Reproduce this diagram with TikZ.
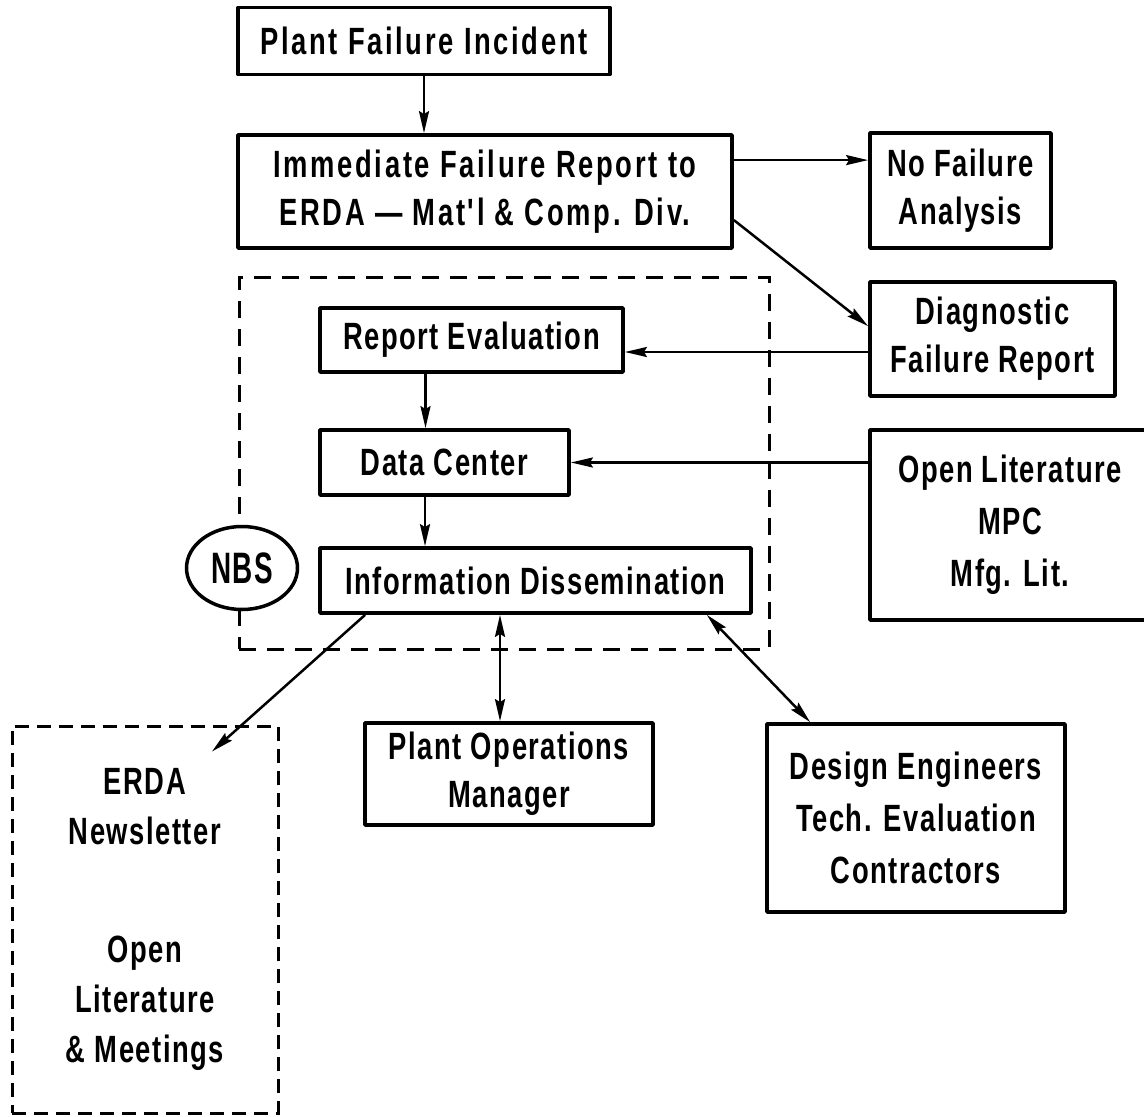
\documentclass[tikz,border=0pt]{standalone}
\usepackage{fontspec}
\usepackage{graphicx}
\setmainfont{Liberation Sans}[FakeStretch=0.72,LetterSpace=4]
\newfontfamily\topfont{Liberation Sans}[FakeStretch=0.72,LetterSpace=7]
\usetikzlibrary{arrows.meta,shapes.geometric,calc}
\begin{document}
\begin{tikzpicture}[x=1pt,y=-1pt,
  lbl/.style={font=\bfseries\fontsize{38}{48}\selectfont},
  lbltop/.style={font=\topfont\bfseries\fontsize{38}{48}\selectfont},
  lbltall/.style={font=\bfseries\fontsize{38}{52}\selectfont},
  box/.style={draw, line width=3.8pt, inner sep=0pt, align=center, lbl, line join=round},
  nbsdash/.style={draw, line width=3pt, dash pattern=on 17pt off 11pt, inner sep=0pt},
  newsdash/.style={draw, line width=3pt, dash pattern=on 14pt off 8pt, inner sep=0pt, align=center,
                   font=\bfseries\fontsize{38}{50}\selectfont},
  tip/.tip={Stealth[length=22pt,width=10pt,inset=3pt]},
  arr/.style={line width=2.5pt, -tip},
  darr/.style={line width=2.5pt, tip-tip},
]
\fill[white] (0,0) rectangle (1144,1117);
\useasboundingbox (0,0) rectangle (1144,1117);

% NBS container and label
\node[nbsdash, minimum width=530pt, minimum height=372pt] (nbs) at (504,463) {};
\node[ellipse, draw, line width=3.5pt, fill=white, minimum width=111pt, minimum height=83pt, inner sep=0pt,
      font=\bfseries\fontsize{44}{48}\selectfont] (nbslbl) at (242,568) {\scalebox{0.88}[1]{NBS}};

% boxes
\node[box, lbltop, minimum width=372pt, minimum height=67pt] (pfi) at (424,41) {Plant Failure Incident};
\node[box, lbltop, minimum width=494pt, minimum height=113pt] (ifr) at (485,191.5)
  {Immediate Failure Report to\\ERDA \textemdash{} Mat'l \& Comp. Div.};
\node[box, minimum width=181pt, minimum height=115pt] (nfa) at (960.5,190.5) {No Failure\\Analysis};
\node[box, minimum width=245pt, minimum height=114pt] (dfr) at (992.5,339) {Diagnostic\\Failure Report};
\node[box, lbltall, minimum width=280pt, minimum height=190pt] (olit) at (1010,525) {Open Literature\\MPC\\Mfg. Lit.};
\node[box, minimum width=303pt, minimum height=64pt] (rev) at (471.5,340) {Report Evaluation};
\node[box, minimum width=249pt, minimum height=65pt] (dc) at (444.5,462.5) {Data Center};
\node[box, minimum width=431pt, minimum height=65pt] (info) at (535.5,580.5) {Information Dissemination};
\node[box, minimum width=288pt, minimum height=102pt] (pom) at (509,774) {Plant Operations\\Manager};
\node[box, lbltall, minimum width=298pt, minimum height=188pt] (deng) at (916,818) {Design Engineers\\Tech. Evaluation\\Contractors};
\node[newsdash, minimum width=266pt, minimum height=387pt] (news) at (145,919.5)
  {ERDA\\Newsletter\\[68pt]Open\\Literature\\\& Meetings};

% connectors
\draw[arr] (pfi.south) -- (pfi.south |- ifr.north);
\coordinate (ya) at ([yshift=-27pt]ifr.north east);
\draw[arr] (ya) -- (ya -| nfa.west);
\draw[arr] ([yshift=-87pt]ifr.north east) -- ([yshift=-46pt]dfr.north west);
\coordinate (yb) at ([yshift=-13pt]dfr.west);
\draw[arr] (yb) -- (yb -| rev.east);
\coordinate (c1) at ([xshift=-46pt]rev.south);
\draw[arr] (c1) -- (c1 |- dc.north);
\coordinate (c2) at ([xshift=-19.5pt]dc.south);
\draw[arr] (c2) -- (c2 |- info.north);
\draw[arr] (olit.west |- dc.east) -- (dc.east);
\draw[arr] ([xshift=47pt]info.south west) -- ([shift={(67pt,-27pt)}]news.north);
\coordinate (c5) at ([xshift=-35.5pt]info.south);
\draw[darr] (c5) -- (c5 |- pom.north);
\draw[darr] ([xshift=-46pt]info.south east) -- ([xshift=45pt]deng.north west);
\end{tikzpicture}
\end{document}
